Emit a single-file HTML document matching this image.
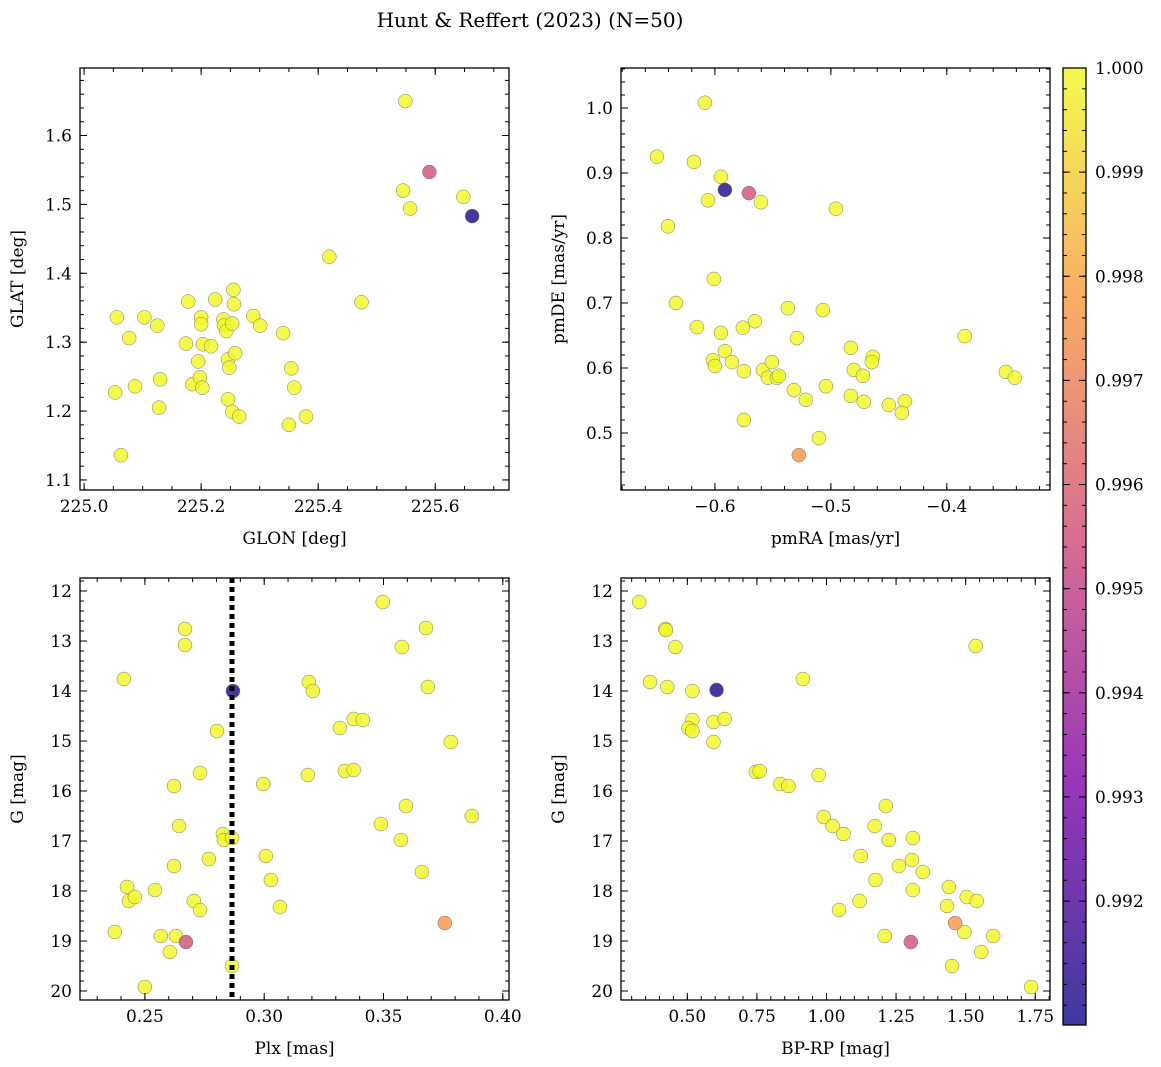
<!DOCTYPE html>
<html><head><meta charset="utf-8"><style>
body{margin:0;background:#fff;}
svg{display:block;font-family:"DejaVu Serif","Liberation Serif",serif;}
</style></head><body>
<svg id="fig" width="1161" height="1067" xmlns="http://www.w3.org/2000/svg">
<defs>
<linearGradient id="cbgrad" x1="0" y1="1" x2="0" y2="0">
<stop offset="0" stop-color="#0d0887"/><stop offset="0.25" stop-color="#7e03a8"/><stop offset="0.5" stop-color="#cc4778"/><stop offset="0.75" stop-color="#f89540"/><stop offset="1" stop-color="#f0f921"/>
</linearGradient>
</defs>
<text x="530" y="27" font-size="20" text-anchor="middle">Hunt &amp; Reffert (2023) (N=50)</text>
</svg>
<script>
// ---- data (per panel) ----
const glon=[225.549,225.545,225.590,225.557,225.648,225.663,225.419,225.474,225.053,225.063,225.077,225.087,225.056,225.130,225.128,225.125,225.178,225.174,225.185,225.200,225.200,225.195,225.198,225.202,225.203,225.217,225.224,225.238,225.239,225.243,225.246,225.248,225.246,225.253,225.253,225.258,225.255,225.256,225.265,225.289,225.301,225.340,225.354,225.359,225.350,225.379,225.103];
const glat=[1.650,1.520,1.547,1.494,1.511,1.483,1.424,1.358,1.227,1.136,1.306,1.236,1.336,1.246,1.205,1.324,1.359,1.298,1.239,1.336,1.326,1.272,1.249,1.234,1.297,1.294,1.362,1.333,1.324,1.316,1.275,1.263,1.217,1.199,1.327,1.284,1.376,1.355,1.192,1.338,1.324,1.313,1.262,1.234,1.180,1.192,1.336];
const probTL=[1,1,0.9956,1,1,0.9910,1,1,1,1,1,1,1,1,1,1,1,1,1,1,1,1,1,1,1,1,1,1,1,1,1,1,1,1,1,1,1,1,1,1,1,1,1,1,1,1,1];
const pmra=[-0.6086,-0.6500,-0.6181,-0.5948,-0.6060,-0.5914,-0.5707,-0.5603,-0.4957,-0.6405,-0.6009,-0.6336,-0.6155,-0.5948,-0.5914,-0.6017,-0.6000,-0.5853,-0.5759,-0.5655,-0.5371,-0.5069,-0.5293,-0.5586,-0.5543,-0.5466,-0.5509,-0.5750,-0.5448,-0.5319,-0.5216,-0.5043,-0.4828,-0.4802,-0.4638,-0.4647,-0.4724,-0.4828,-0.4716,-0.4500,-0.4362,-0.4388,-0.3845,-0.3491,-0.3414,-0.5750,-0.5103,-0.5276];
const pmde=[1.008,0.925,0.917,0.894,0.858,0.874,0.869,0.855,0.845,0.818,0.737,0.700,0.663,0.654,0.626,0.612,0.603,0.609,0.662,0.672,0.692,0.689,0.646,0.597,0.585,0.585,0.609,0.595,0.588,0.566,0.551,0.572,0.631,0.597,0.617,0.609,0.588,0.557,0.548,0.543,0.549,0.531,0.649,0.594,0.585,0.520,0.492,0.466];
const probTR=[1,1,1,1,1,0.9910,0.9956,1,1,1,1,1,1,1,1,1,1,1,1,1,1,1,1,1,1,1,1,1,1,1,1,1,1,1,1,1,1,1,1,1,1,1,1,1,1,1,1,0.9976];
const plx=[0.2412,0.2374,0.2425,0.2433,0.2458,0.2500,0.2542,0.2567,0.2605,0.2622,0.2622,0.2630,0.2643,0.2672,0.2668,0.2668,0.2705,0.2731,0.2731,0.2768,0.2802,0.2827,0.2831,0.2865,0.2869,0.2865,0.2996,0.3007,0.3028,0.3066,0.3187,0.3204,0.3183,0.3317,0.3338,0.3375,0.3375,0.3413,0.3497,0.3489,0.3577,0.3573,0.3594,0.3678,0.3686,0.3661,0.3757,0.3782,0.3870];
const gPlx=[13.76,18.82,17.92,18.20,18.12,19.92,17.98,18.90,19.22,17.50,15.90,18.90,16.70,19.02,12.76,13.08,18.20,18.38,15.64,17.36,14.80,16.86,16.98,16.94,14.00,19.50,15.86,17.30,17.78,18.32,13.82,14.00,15.68,14.74,15.60,15.58,14.56,14.58,12.22,16.66,13.12,16.98,16.30,12.74,13.92,17.62,18.64,15.02,16.50];
const probBL=[1,1,1,1,1,1,1,1,1,1,1,1,1,0.9956,1,1,1,1,1,1,1,1,1,1,0.9910,1,1,1,1,1,1,1,1,1,1,1,1,1,1,1,1,1,1,1,1,1,0.9976,1,1];
const bprp=[0.327,0.421,0.423,0.457,0.366,0.428,0.518,0.605,0.518,0.504,0.518,0.594,0.634,0.594,0.915,0.746,0.760,0.834,0.863,0.972,0.990,1.022,1.061,1.123,1.173,1.213,1.224,1.310,1.307,1.260,1.346,1.176,1.310,1.440,1.504,1.540,1.433,1.119,1.045,1.209,1.495,1.599,1.462,1.303,1.451,1.556,1.735,1.536];
const gCmd=[12.22,12.76,12.78,13.12,13.82,13.92,14.00,13.98,14.58,14.74,14.80,14.62,14.56,15.02,13.76,15.62,15.60,15.86,15.90,15.68,16.52,16.70,16.86,17.30,16.70,16.30,16.98,16.94,17.38,17.50,17.62,17.78,17.98,17.92,18.12,18.20,18.30,18.20,18.38,18.90,18.82,18.90,18.64,19.02,19.50,19.22,19.92,13.10];
const probBR=[1,1,1,1,1,1,1,0.9910,1,1,1,1,1,1,1,1,1,1,1,1,1,1,1,1,1,1,1,1,1,1,1,1,1,1,1,1,1,1,1,1,1,1,0.9976,0.9956,1,1,1,1];
const cbTicks=[0.992,0.993,0.994,0.995,0.996,0.997,0.998,0.999,1.000];
const plxLine=0.2865;

const NS="http://www.w3.org/2000/svg";
const svg=document.getElementById('fig');
function el(tag,attrs,parent){const e=document.createElementNS(NS,tag);for(const k in attrs)e.setAttribute(k,attrs[k]);(parent||svg).appendChild(e);return e;}
const VMIN=0.99081,VMAX=1.0;
const stops=[[0,[13,8,135]],[0.25,[126,3,168]],[0.5,[204,71,120]],[0.75,[248,149,64]],[1,[240,249,33]]];
function cmap(v){let t=Math.max(0,Math.min(1,(v-VMIN)/(VMAX-VMIN)));for(let i=0;i<4;i++){const a=stops[i],b=stops[i+1];if(t<=b[0]){const f=(t-a[0])/(b[0]-a[0]);const c=a[1].map((x,j)=>Math.round(x+(b[1][j]-x)*f));return `rgb(${c})`;}}return 'rgb(240,249,33)';}

function panel(name,L,R,T,B,xd,yd,xmaj,xmin,ymaj,ymin,xfmt,yfmt,xlab,ylab,xs,ys,ps){
  const g=el('g',{});
  
  
  const sx=v=>L+(v-xd[0])/(xd[1]-xd[0])*(R-L);
  const sy=v=>T+(yd[1]-v)/(yd[1]-yd[0])*(B-T);
  const clip='c'+name;
  const cp=el('clipPath',{id:clip},g);el('rect',{x:L,y:T,width:R-L,height:B-T},cp);
  const pg=el('g',{'clip-path':`url(#${clip})`},g);
  
  
  for(let i=0;i<xs.length;i++){
    const c=el('circle',{cx:sx(xs[i]),cy:sy(ys[i]),r:7,fill:cmap(ps[i]),'fill-opacity':0.8,stroke:'#777','stroke-width':0.5},pg);
    
    
  }
  const tk=el('g',{stroke:'#000','stroke-width':1},g);
  function ticks(lo,hi,step){const out=[];const s=Math.ceil(lo/step-1e-9);for(let k=s;k*step<=hi+1e-9;k++)out.push(+(k*step).toFixed(6));return out;}
  for(const [step,len] of [[xmin,4],[xmaj,7]])for(const v of ticks(xd[0],xd[1],step)){const x=sx(v);el('line',{x1:x,x2:x,y1:B,y2:B-len},tk);el('line',{x1:x,x2:x,y1:T,y2:T+len},tk);}
  for(const [step,len] of [[ymin,4],[ymaj,7]])for(const v of ticks(yd[0],yd[1],step)){const y=sy(v);el('line',{y1:y,y2:y,x1:L,x2:L+len},tk);el('line',{y1:y,y2:y,x1:R,x2:R-len},tk);}
  for(const v of ticks(xd[0],xd[1],xmaj)){const t=el('text',{x:sx(v),y:B+22,'font-size':17,'text-anchor':'middle'},g);t.textContent=xfmt(v);}
  for(const v of ticks(yd[0],yd[1],ymaj)){const t=el('text',{x:L-8,y:sy(v)+6,'font-size':17,'text-anchor':'end'},g);t.textContent=yfmt(v);}
  el('rect',{x:L,y:T,width:R-L,height:B-T,fill:'none',stroke:'#000','stroke-width':1.3},g);
  const xl=el('text',{x:(L+R)/2,y:B+54,'font-size':17,'text-anchor':'middle'},g);xl.textContent=xlab;
  
  const yx=L-57,yy=(T+B)/2;
  const yl=el('text',{x:yx,y:yy,'font-size':17,'text-anchor':'middle',transform:`rotate(-90 ${yx} ${yy})`},g);yl.textContent=ylab;
  
  return {sx,sy,g};
}
const f1=v=>v.toFixed(1),f2=v=>v.toFixed(2),f0=v=>v.toFixed(0),fm=v=>(v<0?'\u2212':'')+Math.abs(v).toFixed(1);
panel('glon-glat-panel',80,509,68,490,[224.993,225.726],[1.0854,1.698],0.2,0.05,0.1,0.02,f1,f1,'GLON [deg]','GLAT [deg]',glon,glat,probTL);
panel('pm-panel',621,1050,68,490,[-0.681,-0.311],[0.4123,1.0615],0.1,0.02,0.1,0.02,fm,f1,'pmRA [mas/yr]','pmDE [mas/yr]',pmra,pmde,probTR);
const bl=panel('plx-g-panel',80,509,578,1000,[0.2228,0.4026],[-20.18,-11.74],0.05,0.01,1,0.2,f2,v=>f0(-v),'Plx [mas]','G [mag]',plx,gPlx.map(v=>-v),probBL);
const ln=el('line',{x1:bl.sx(plxLine),x2:bl.sx(plxLine),y1:578,y2:1000,stroke:'#000','stroke-width':5,'stroke-dasharray':'5 4'},bl.g);


panel('cmd-panel',621,1050,578,1000,[0.2617,1.803],[-20.18,-11.74],0.25,0.05,1,0.2,f2,v=>f0(-v),'BP-RP [mag]','G [mag]',bprp,gCmd.map(v=>-v),probBR);
// colorbar
const cb=el('g',{});


el('rect',{x:1063,y:68,width:23,height:957,fill:'url(#cbgrad)','fill-opacity':0.8},cb);
el('rect',{x:1063,y:68,width:23,height:957,fill:'none',stroke:'#000','stroke-width':1.3},cb);
const cy=v=>68+(VMAX-v)/(VMAX-VMIN)*957;
for(let v=0.9910;v<=1.00001;v+=0.0002){const y=cy(v);el('line',{x1:1086,x2:1082,y1:y,y2:y,stroke:'#000'},cb);el('line',{x1:1063,x2:1067,y1:y,y2:y,stroke:'#000'},cb);}
for(const v of cbTicks){const y=cy(v);el('line',{x1:1086,x2:1079,y1:y,y2:y,stroke:'#000'},cb);el('line',{x1:1063,x2:1070,y1:y,y2:y,stroke:'#000'},cb);
 const t=el('text',{x:1095,y:y+6,'font-size':17},cb);t.textContent=v.toFixed(3);}
</script>
</body></html>
